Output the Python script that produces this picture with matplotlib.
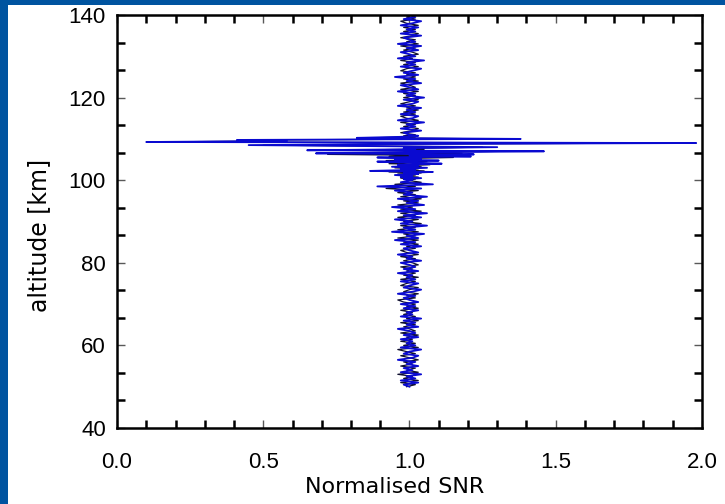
import numpy as np
import matplotlib
matplotlib.use("Agg")
import matplotlib.pyplot as plt
from matplotlib.ticker import MultipleLocator, AutoMinorLocator
from matplotlib.patches import Rectangle

# ---- data ----
alt_low = np.linspace(50.0, 99.5, 100)
alt_mid = np.linspace(100.0, 110.75, 44)
alt_high = np.linspace(111.0, 140.0, 59)

# blue profile
blue_low = [
    1.00, 0.98, 1.03, 0.97, 1.02, 0.99, 1.04, 0.97, 1.01, 0.98,
    1.03, 0.99, 1.02, 0.96, 1.01, 1.03, 0.98, 1.00, 1.04, 0.97,
    1.02, 0.99, 1.01, 0.97, 1.03, 0.98, 1.02, 1.00, 0.96, 1.03,
    0.99, 1.02, 0.98, 1.04, 0.97, 1.01, 0.99, 1.03, 0.98, 1.02,
    0.97, 1.03, 1.00, 0.98, 1.02, 0.96, 1.01, 1.04, 0.98, 1.00,
    1.03, 0.97, 1.02, 0.99, 1.01, 0.96, 1.03, 0.98, 1.02, 1.00,
    0.97, 1.04, 0.99, 1.01, 0.96, 1.03, 1.00, 0.98, 1.04, 0.97,
    1.02, 0.95, 1.03, 0.99, 1.05, 0.94, 1.02, 0.98, 1.06, 0.97,
    1.01, 0.95, 1.04, 0.98, 1.06, 0.96, 1.02, 0.94, 1.05, 0.99,
    1.03, 0.96, 1.06, 0.98, 1.01, 0.95, 1.04, 0.89, 1.08, 0.97,
]
blue_mid = [
    1.01, 0.98, 1.04, 0.97, 1.01, 0.95, 1.03, 0.98, 1.08, 0.865,
    1.02, 0.97, 1.06, 0.94, 1.03, 0.96, 1.11, 1.02, 0.89, 1.10,
    0.95, 1.04, 0.89, 1.21, 1.00, 1.22, 0.68, 1.05, 1.46, 0.65,
    1.02, 0.98, 1.30, 0.88, 0.45, 0.95, 1.98, 0.10, 0.58, 0.41,
    1.38, 0.82, 0.97, 1.03,
]
blue_high = [
    1.00, 0.98, 1.04, 0.97, 1.02, 0.99, 1.05, 0.96, 1.01, 1.03,
    0.97, 1.02, 0.99, 1.04, 0.96, 1.01, 1.03, 0.98, 1.05, 0.99,
    1.02, 0.96, 1.03, 1.00, 0.97, 1.04, 0.99, 1.02, 0.95, 1.03,
    0.98, 1.01, 1.04, 0.97, 1.02, 0.99, 1.05, 0.96, 1.02, 1.00,
    0.97, 1.03, 0.99, 1.04, 0.96, 1.02, 1.00, 0.98, 1.04, 0.97,
    1.02, 0.99, 1.03, 0.97, 1.01, 1.04, 0.98, 1.02, 1.00,
]

# black profile
black_low = [
    0.99, 1.02, 0.97, 1.03, 0.98, 1.01, 0.96, 1.03, 0.99, 1.02,
    0.97, 1.01, 0.98, 1.03, 1.00, 0.97, 1.02, 0.99, 0.96, 1.03,
    0.98, 1.02, 0.97, 1.01, 0.99, 1.03, 0.97, 1.02, 1.00, 0.98,
    1.02, 0.97, 1.03, 0.99, 1.02, 0.98, 1.01, 0.97, 1.03, 0.99,
    1.02, 0.98, 0.96, 1.02, 0.99, 1.03, 0.98, 1.00, 1.03, 0.97,
    0.99, 1.02, 0.97, 1.03, 0.98, 1.02, 0.99, 1.01, 0.97, 1.03,
    1.01, 0.98, 1.02, 0.97, 1.03, 0.99, 0.97, 1.02, 0.99, 1.03,
    0.98, 1.03, 0.96, 1.02, 0.98, 1.03, 0.96, 1.02, 0.97, 1.04,
    0.98, 1.03, 0.96, 1.02, 0.97, 1.04, 0.97, 1.01, 0.96, 1.03,
    0.98, 1.04, 0.97, 1.02, 0.96, 1.03, 0.92, 1.02, 0.95, 1.04,
]
black_mid = [
    0.99, 1.02, 0.97, 1.03, 0.98, 1.02, 0.96, 1.04, 0.93, 1.05,
    0.97, 1.03, 0.95, 1.04, 0.98, 1.07, 0.93, 0.99, 1.06, 0.92,
    1.03, 0.97, 1.15, 0.93, 1.08, 0.72, 1.18, 0.98, 1.32, 0.70,
    1.05, 1.00, 1.25, 0.92, 0.50, 1.02, 1.90, 0.12, 0.52, 0.47,
    1.30, 0.86, 1.02, 0.98,
]
black_high = [
    1.02, 0.97, 1.01, 1.03, 0.98, 1.02, 0.97, 1.03, 0.99, 0.97,
    1.02, 0.98, 1.03, 0.99, 1.02, 0.97, 1.00, 1.03, 0.98, 1.02,
    0.98, 1.03, 0.97, 1.02, 1.00, 0.97, 1.03, 0.98, 1.02, 0.99,
    1.02, 0.97, 0.99, 1.03, 0.98, 1.02, 0.97, 1.01, 0.98, 1.03,
    1.01, 0.98, 1.02, 0.97, 1.03, 0.99, 1.02, 0.97, 1.01, 1.03,
    0.98, 1.02, 0.98, 1.03, 0.99, 0.97, 1.02, 0.99, 1.01,
]

altitude = np.concatenate([alt_low, alt_mid, alt_high])
snr_blue = np.concatenate([blue_low, blue_mid, blue_high])
snr_black = np.concatenate([black_low, black_mid, black_high])

xticks = [0.0, 0.5, 1.0, 1.5, 2.0]
yticks = [40, 60, 80, 100, 120, 140]

# ---- figure ----
fig = plt.figure(figsize=(7.25, 5.04), dpi=100)
fig.patch.set_facecolor("white")
# blue slide border (top and left)
fig.patches.append(Rectangle((0, 1 - 5 / 504), 1, 5 / 504, transform=fig.transFigure,
                             facecolor="#0054A0", edgecolor="none", zorder=-1))
fig.patches.append(Rectangle((0, 0), 8 / 725, 1, transform=fig.transFigure,
                             facecolor="#0054A0", edgecolor="none", zorder=-1))

ax = fig.add_axes([117 / 725, 1 - 428 / 504, (702 - 117) / 725, (428 - 15) / 504])
ax.plot(snr_black, altitude, color="#101030", lw=0.9)
ax.plot(snr_blue, altitude, color="#0A0AD0", lw=1.3)

ax.set_xlim(0.0, 2.0)
ax.set_ylim(40, 140)
ax.set_xticks(xticks)
ax.set_yticks(yticks)
ax.set_xticklabels([f"{v:.1f}" for v in xticks])
ax.set_yticklabels([str(v) for v in yticks])
ax.xaxis.set_minor_locator(MultipleLocator(0.1))
ax.yaxis.set_minor_locator(AutoMinorLocator(3))

for s in ax.spines.values():
    s.set_linewidth(1.8)
ax.tick_params(which="both", direction="in", top=True, right=True)
ax.tick_params(which="major", length=6, width=1.0, color="0.35")
ax.tick_params(which="minor", length=6, width=1.8, color="black")
for lab in ax.get_xticklabels() + ax.get_yticklabels():
    lab.set_fontfamily("Liberation Sans")
    lab.set_fontsize(16)
ax.tick_params(axis="y", pad=8)
ax.tick_params(axis="x", pad=17)

ax.set_xlabel("Normalised SNR", fontsize=16, fontfamily="DejaVu Sans")
ax.set_ylabel("altitude [km]", fontsize=17, fontfamily="DejaVu Sans")
ax.xaxis.set_label_coords(0.475, -0.118)
ax.yaxis.set_label_coords(-0.112, 0.467)

fig.savefig("out.png", dpi=100, facecolor="white")
